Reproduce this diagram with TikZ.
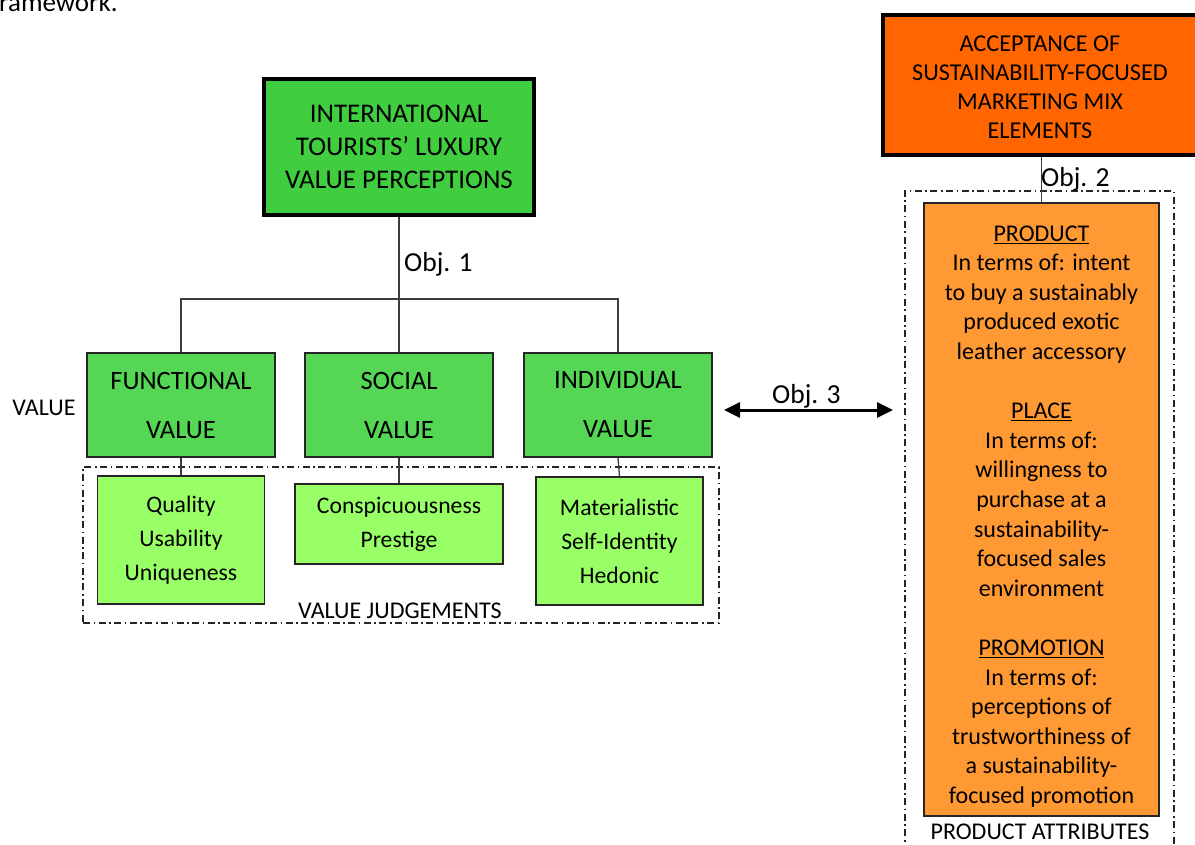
\documentclass[tikz,border=0pt]{standalone}
\usepackage{fontspec}
\setmainfont{Carlito}
\usetikzlibrary{arrows.meta}
\definecolor{gTop}{RGB}{64,206,64}
\definecolor{gMid}{RGB}{85,214,85}
\definecolor{gLight}{RGB}{153,255,102}
\definecolor{oTop}{RGB}{255,102,0}
\definecolor{oIn}{RGB}{255,153,51}
\definecolor{lineC}{RGB}{60,60,60}
\begin{document}
\begin{tikzpicture}[x=1pt,y=-1pt,
  bigbox/.style={draw=black,line width=3.6pt,inner sep=0pt,align=center},
  midbox/.style={draw=black!85,line width=1.4pt,fill=gMid,inner sep=0pt,align=center,
    minimum width=188pt,minimum height=104pt,font=\fontsize{26.5}{49}\selectfont},
  smallbox/.style={draw=black!85,line width=1.4pt,fill=gLight,inner sep=0pt,align=center,
    font=\fontsize{23.7}{34}\selectfont},
  frame/.style={draw=black!85,line width=1.3pt,dash pattern=on 7pt off 3.5pt on 1.6pt off 3.5pt,inner sep=0pt},
  conn/.style={draw=lineC,line width=1.3pt},
  lbl/.style={inner sep=0pt,font=\fontsize{24}{28}\selectfont},
  objlbl/.style={inner sep=0pt,anchor=west,font=\fontsize{27.5}{30}\selectfont}
]
\useasboundingbox (0,0) rectangle (1195,845);

% cut-off caption
\node[inner sep=0pt,anchor=base west,font=\fontsize{27}{30}\selectfont] (cap) at (-1,12) {ramework.};

% top green box
\node[bigbox,fill=gTop,minimum width=270pt,minimum height=136pt,
  font=\fontsize{27}{33}\selectfont] (top) at (399,147)
  {INTERNATIONAL\\TOURISTS’ LUXURY\\VALUE PERCEPTIONS};

% value judgements frame
\node[frame,minimum width=636pt,minimum height=156pt] (vj) at (401,545) {};
\node[lbl] (vjl) at (400,611) {VALUE JUDGEMENTS};

% mid boxes
\node[midbox] (func) at (181,405) {FUNCTIONAL\\VALUE};
\node[midbox] (soc)  at (399,405) {SOCIAL\\VALUE};
\node[midbox] (ind)  at (618,405) {INDIVIDUAL\\VALUE};
\node[lbl] (vlab) at (44,408) {VALUE};

% connectors tree
\coordinate (bar) at (399,299);
\draw[conn] (top.south) -- (bar);
\draw[conn] (func.north) |- (bar);
\draw[conn] (ind.north) |- (bar);
\draw[conn] (soc.north) -- (bar);
\node[objlbl] (o1) at (404,264) {Obj. 1};

% small boxes
\node[smallbox,minimum width=167pt,minimum height=128pt] (qual) at (181,540)
  {Quality\\Usability\\Uniqueness};
\node[smallbox,minimum width=208pt,minimum height=80pt] (consp) at (399,524)
  {Conspicuousness\\Prestige};
\node[smallbox,minimum width=167pt,minimum height=128pt] (mat) at (619.5,541)
  {Materialistic\\Self-Identity\\Hedonic};
\draw[conn] (func.south) -- (qual.north);
\draw[conn] (soc.south) -- (consp.north);
\draw[conn] (ind.south) -- (mat.north);

% right side
\node[bigbox,fill=oTop,minimum width=314pt,minimum height=140pt] (acc) at (1040,85) {};
\node[inner sep=0pt,align=center,font=\fontsize{24.2}{29}\selectfont] (acct) at (1040,87.5)
  {ACCEPTANCE OF\\SUSTAINABILITY-FOCUSED\\MARKETING MIX\\ELEMENTS};
\node[frame,minimum width=269pt,minimum height=680pt] (pa) at (1039.5,531) {};
\node[draw=black!85,line width=1.4pt,fill=oIn,inner sep=0pt,
  minimum width=235pt,minimum height=613pt] (mix) at (1041.5,509.5) {};
\node[inner sep=0pt,align=center,font=\fontsize{24}{29.6}\selectfont] (mixt) at (1041.5,516.5)
  {\underline{PRODUCT}\\In terms of: intent\\to buy a sustainably\\produced exotic\\leather accessory\\[29.6pt]
   \underline{PLACE}\\In terms of:\\willingness to\\purchase at a\\sustainability-\\focused sales\\environment\\[29.6pt]
   \underline{PROMOTION}\\In terms of:\\perceptions of\\trustworthiness of\\a sustainability-\\focused promotion};
\draw[conn] (acc.south -| mix.north) -- (mix.north);
\node[objlbl] (o2) at (1041,179) {Obj. 2};
\node[lbl] (pal) at (1040,832) {PRODUCT ATTRIBUTES};

% objective 3 arrow
\coordinate (a3l) at (724,410);
\coordinate (a3r) at (893,410);
\draw[line width=3pt,{Triangle[length=16pt,width=15pt]}-{Triangle[length=16pt,width=15pt]}] (a3l) -- (a3r);
\node[objlbl] (o3) at (772,396) {Obj. 3};
\end{tikzpicture}
\end{document}
